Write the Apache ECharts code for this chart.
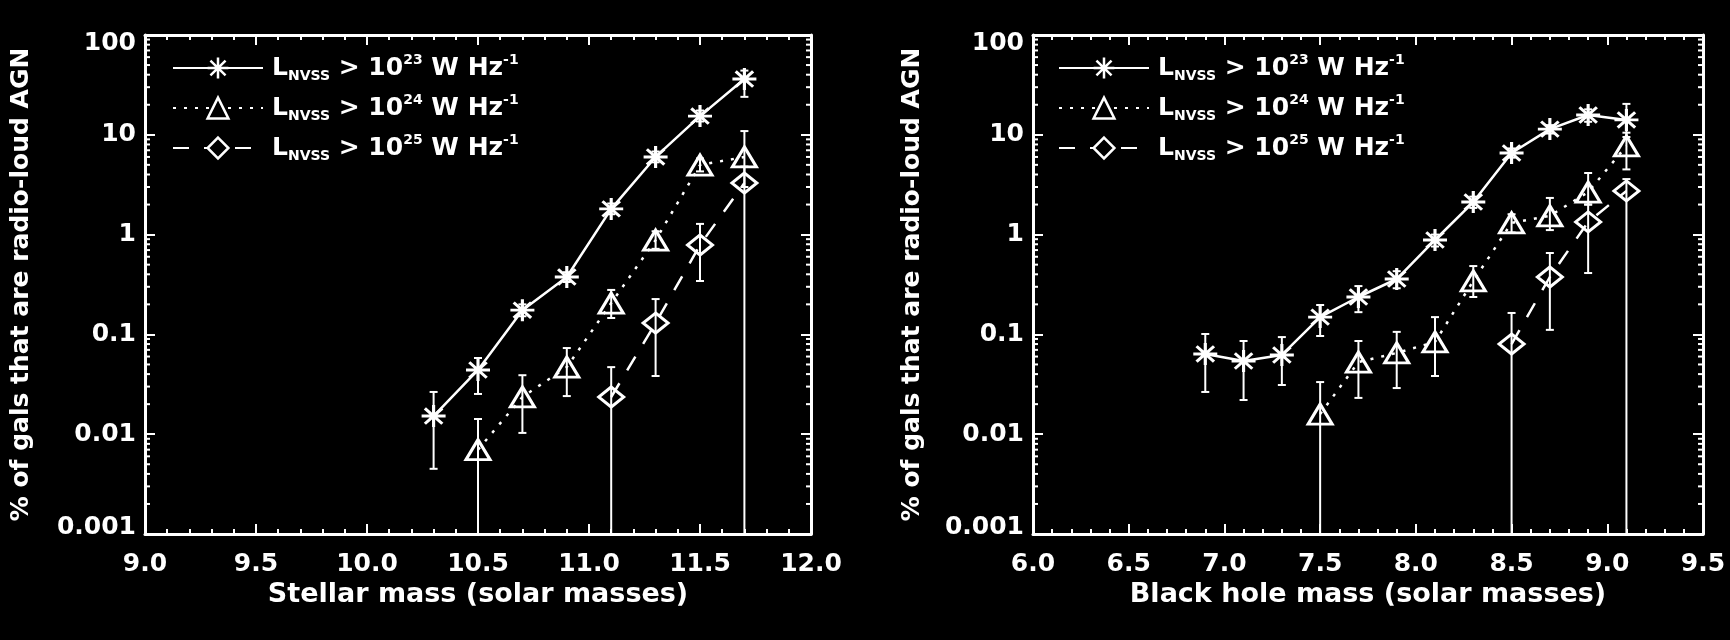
<!DOCTYPE html>
<html>
<head>
<meta charset="utf-8">
<script src="https://cdn.jsdelivr.net/npm/echarts@6/dist/echarts.min.js"></script>
<style>
  html, body { margin: 0; padding: 0; background: #000; }
  #chart { width: 1730px; height: 640px; }
</style>
</head>
<body>
<div id="chart"></div>
<script>
// ---- Radio-loud AGN fraction vs. stellar mass ----
const stellarX23 = [10.3, 10.5, 10.7, 10.9, 11.1, 11.3, 11.5, 11.7];
const stellarY23 = [0.0152, 0.044, 0.175, 0.376, 1.81, 6.0, 15.4, 36.2];
const stellarHi23 = [0.0265, 0.058, 0.20, 0.42, 2.05, 6.8, 17.5, 44];
const stellarLo23 = [0.0045, 0.0253, 0.152, 0.335, 1.6, 5.3, 13.6, 24];

const stellarX24 = [10.5, 10.7, 10.9, 11.1, 11.3, 11.5, 11.7];
const stellarY24 = [0.0070, 0.0236, 0.047, 0.206, 0.88, 4.98, 6.0];
const stellarHi24 = [0.0142, 0.039, 0.073, 0.279, 1.08, 5.8, 10.9];
const stellarLo24 = [0, 0.0103, 0.0241, 0.146, 0.72, 4.3, 3.0];

const stellarX25 = [11.1, 11.3, 11.5, 11.7];
const stellarY25 = [0.0236, 0.130, 0.787, 3.29];
const stellarHi25 = [0.047, 0.226, 1.28, 4.8];
const stellarLo25 = [0, 0.0383, 0.343, 0];

// ---- Radio-loud AGN fraction vs. black hole mass ----
const bhX23 = [6.9, 7.1, 7.3, 7.5, 7.7, 7.9, 8.1, 8.3, 8.5, 8.7, 8.9, 9.1];
const bhY23 = [0.0637, 0.0541, 0.0622, 0.149, 0.237, 0.359, 0.883, 2.12, 6.57, 11.4, 15.8, 14.1];
const bhHi23 = [0.101, 0.0859, 0.094, 0.197, 0.305, 0.43, 1.0, 2.4, 7.3, 12.5, 18, 20.4];
const bhLo23 = [0.0265, 0.022, 0.0311, 0.0964, 0.167, 0.29, 0.76, 1.85, 5.9, 10.3, 13.5, 9.5];

const bhX24 = [7.5, 7.7, 7.9, 8.1, 8.3, 8.5, 8.7, 8.9, 9.1];
const bhY24 = [0.0159, 0.0528, 0.0652, 0.084, 0.343, 1.31, 1.54, 2.67, 7.73];
const bhHi24 = [0.0333, 0.0859, 0.106, 0.149, 0.484, 1.6, 2.33, 4.14, 10.5];
const bhLo24 = [0, 0.0231, 0.029, 0.0383, 0.237, 1.05, 1.11, 2.0, 4.5];

const bhX25 = [8.5, 8.7, 8.9, 9.1];
const bhY25 = [0.080, 0.376, 1.34, 2.74];
const bhHi25 = [0.164, 0.654, 2.0, 3.6];
const bhLo25 = [0, 0.111, 0.412, 0];

// ---- Axes and legend text ----
const lumExponents = ['23', '24', '25'];
const seriesNames = ['L_NVSS > 10^23 W Hz^-1', 'L_NVSS > 10^24 W Hz^-1', 'L_NVSS > 10^25 W Hz^-1'];
const yTickLabels = ['0.001', '0.01', '0.1', '1', '10', '100'];
const yMinorDecades = [0.001, 0.01, 0.1, 1, 10];
const yMinorSteps = [2, 3, 4, 5, 6, 7, 8, 9];
const xTitles = ['Stellar mass (solar masses)', 'Black hole mass (solar masses)'];
const yTitle = '% of gals that are radio-loud AGN';
const xRanges = [[9.0, 12.0], [6.0, 9.5]];

const FONT = 'DejaVu Sans';
const WHITE = '#fff';

const symbols = [
  'path://M0,-10L0,10M-11,0L11,0M-8,-7L8,7M-8,7L8,-7',
  'path://M0,0L11,17L-11,17Z',
  'path://M0,-10L11,0L0,10L-11,0Z'
];
const symbolSizes = [[24, 22], [24, 20], [25, 20]];
const lineTypes = ['solid', [3, 8], [16, 15]];

const minorTickValues = [];
yMinorDecades.forEach(d => yMinorSteps.forEach(m => minorTickValues.push(d * m)));

function yLabelFormatter(v) {
  const idx = Math.round(Math.log10(v)) + 3;
  const txt = yTickLabels[idx];
  if (idx === yTickLabels.length - 1) return '{top|' + txt + '}';
  if (idx === 0) return '{bot|' + txt + '}';
  return txt;
}

const labelText = { color: WHITE, fontFamily: FONT, fontWeight: 'bold', fontSize: 25 };

function makeXAxes(panel) {
  const [min, max] = xRanges[panel];
  const common = {
    type: 'value', gridIndex: panel, min: min, max: max, interval: 0.5,
    axisLine: { onZero: false, lineStyle: { color: WHITE, width: 3 } },
    axisTick: { inside: true, length: 10, lineStyle: { color: WHITE, width: 2 } },
    minorTick: { show: true, splitNumber: 5, length: 5, lineStyle: { color: WHITE, width: 2 } },
    splitLine: { show: false }
  };
  return [
    Object.assign({}, common, {
      position: 'bottom',
      name: xTitles[panel], nameLocation: 'middle', nameGap: 47,
      nameTextStyle: { color: WHITE, fontFamily: FONT, fontWeight: 'bold', fontSize: 27 },
      axisLabel: Object.assign({}, labelText, { margin: 18, formatter: v => v.toFixed(1) })
    }),
    Object.assign({}, common, { position: 'top', axisLabel: { show: false } })
  ];
}

function makeYAxes(panel, gap) {
  const common = {
    type: 'log', logBase: 10, gridIndex: panel, min: 0.001, max: 100,
    axisLine: { onZero: false, lineStyle: { color: WHITE, width: 3 } },
    axisTick: { inside: true, length: 10, lineStyle: { color: WHITE, width: 2 } },
    splitLine: { show: false }
  };
  return [
    Object.assign({}, common, {
      position: 'left',
      name: yTitle, nameLocation: 'middle', nameGap: gap,
      nameTextStyle: { color: WHITE, fontFamily: FONT, fontWeight: 'bold', fontSize: 25 },
      axisLabel: Object.assign({}, labelText, {
        margin: 9, formatter: yLabelFormatter,
        rich: {
          top: Object.assign({}, labelText, { padding: [16, 0, 0, 0] }),
          bot: Object.assign({}, labelText, { padding: [0, 0, 14, 0] })
        }
      })
    }),
    Object.assign({}, common, { position: 'right', axisLabel: { show: false } })
  ];
}

function lineSeries(k, xs, ys, axisIdx) {
  return {
    type: 'line', name: seriesNames[k],
    xAxisIndex: axisIdx, yAxisIndex: axisIdx,
    data: xs.map((x, i) => [x, ys[i]]),
    symbol: symbols[k], symbolSize: symbolSizes[k],
    showAllSymbol: true,
    itemStyle: { color: 'rgba(0,0,0,0)', borderColor: WHITE, borderWidth: 3 },
    lineStyle: { color: WHITE, width: 2.5, type: lineTypes[k] },
    emphasis: { disabled: true },
    z: 3
  };
}

function errorBars(xs, lo, hi, axisIdx) {
  const st = { stroke: WHITE, lineWidth: 2 };
  return {
    type: 'custom', silent: true, clip: true,
    xAxisIndex: axisIdx, yAxisIndex: axisIdx,
    data: xs.map((x, i) => [x, lo[i], hi[i]]),
    encode: { x: 0, y: 2 },
    renderItem(params, api) {
      const cs = params.coordSys;
      const x = api.value(0), l = api.value(1), h = api.value(2);
      const top = api.coord([x, h]);
      const open = !(l > 0);
      const yb = open ? cs.y + cs.height : api.coord([x, l])[1];
      const children = [
        { type: 'line', shape: { x1: top[0], y1: top[1], x2: top[0], y2: yb }, style: st },
        { type: 'line', shape: { x1: top[0] - 4, y1: top[1], x2: top[0] + 4, y2: top[1] }, style: st }
      ];
      if (!open) {
        children.push({ type: 'line', shape: { x1: top[0] - 4, y1: yb, x2: top[0] + 4, y2: yb }, style: st });
      }
      return { type: 'group', children: children };
    },
    z: 2
  };
}

// Log-spaced minor ticks (2..9 per decade) on the left and right frame edges
function logMinorTicks(panel, axisIdx) {
  const st = { stroke: WHITE, lineWidth: 2 };
  return {
    type: 'custom', silent: true, clip: false,
    xAxisIndex: axisIdx, yAxisIndex: axisIdx,
    data: minorTickValues.map(v => [xRanges[panel][0], v]),
    encode: { x: 0, y: 1 },
    renderItem(params, api) {
      const cs = params.coordSys;
      const y = api.coord([api.value(0), api.value(1)])[1];
      return {
        type: 'group', children: [
          { type: 'line', shape: { x1: cs.x, y1: y, x2: cs.x + 5, y2: y }, style: st },
          { type: 'line', shape: { x1: cs.x + cs.width, y1: y, x2: cs.x + cs.width - 5, y2: y }, style: st }
        ]
      };
    },
    z: 4
  };
}

function makeLegend(left) {
  return {
    left: left, top: 48, orient: 'vertical',
    data: seriesNames, selectedMode: false,
    itemWidth: 90, itemHeight: 26, itemGap: 10,
    itemStyle: { color: '#000', borderColor: WHITE, borderWidth: 2.5 },
    formatter: name => {
      const k = seriesNames.indexOf(name);
      return 'L{sub|NVSS} > 10{sup|' + lumExponents[k] + '} W Hz{sup|-1}';
    },
    textStyle: {
      color: WHITE, fontFamily: FONT, fontWeight: 'bold', fontSize: 25, lineHeight: 30,
      padding: [0, 0, 0, 4],
      rich: {
        sub: { color: WHITE, fontFamily: FONT, fontWeight: 'bold', fontSize: 14, lineHeight: 14, verticalAlign: 'bottom' },
        sup: { color: WHITE, fontFamily: FONT, fontWeight: 'bold', fontSize: 14, lineHeight: 14, verticalAlign: 'top' }
      }
    }
  };
}

const xL = makeXAxes(0), xR = makeXAxes(1);
const yL = makeYAxes(0, 111), yR = makeYAxes(1, 108);

const option = {
  backgroundColor: '#000',
  animation: false,
  grid: [
    { left: 145, top: 35, width: 666, height: 499 },
    { left: 1033, top: 35, width: 670, height: 499 }
  ],
  // indices: 0 = left bottom/left, 1 = left top/right, 2 = right bottom/left, 3 = right top/right
  xAxis: [xL[0], xL[1], xR[0], xR[1]],
  yAxis: [yL[0], yL[1], yR[0], yR[1]],
  legend: [makeLegend(167), makeLegend(1053)],
  series: [
    logMinorTicks(0, 0),
    logMinorTicks(1, 2),
    errorBars(stellarX23, stellarLo23, stellarHi23, 0),
    errorBars(stellarX24, stellarLo24, stellarHi24, 0),
    errorBars(stellarX25, stellarLo25, stellarHi25, 0),
    lineSeries(0, stellarX23, stellarY23, 0),
    lineSeries(1, stellarX24, stellarY24, 0),
    lineSeries(2, stellarX25, stellarY25, 0),
    errorBars(bhX23, bhLo23, bhHi23, 2),
    errorBars(bhX24, bhLo24, bhHi24, 2),
    errorBars(bhX25, bhLo25, bhHi25, 2),
    lineSeries(0, bhX23, bhY23, 2),
    lineSeries(1, bhX24, bhY24, 2),
    lineSeries(2, bhX25, bhY25, 2)
  ]
};

const chart = echarts.init(document.getElementById('chart'), null, { renderer: 'canvas' });
chart.setOption(option);
</script>
</body>
</html>
